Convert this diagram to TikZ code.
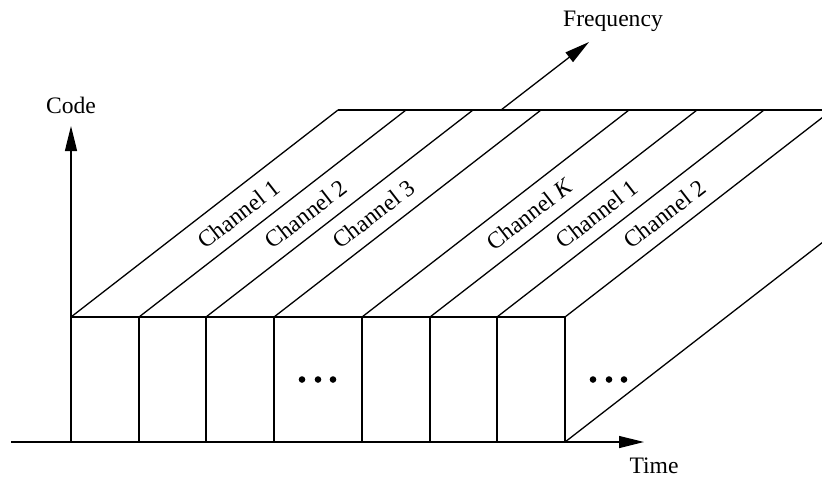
\documentclass[tikz,border=0pt]{standalone}
\usepackage{fontspec}
\setmainfont{Liberation Serif}
\usetikzlibrary{arrows.meta}

\begin{document}
\begin{tikzpicture}[
    x=0.5pt,y=-0.5pt,
    lbl/.style={font=\fontsize{11.8}{14}\selectfont,inner sep=0pt},
    chan/.style={lbl,rotate=37.8},
    edge/.style={line width=0.65pt},
    arrow/.style={-{Triangle[length=12.5pt,width=6pt]},line width=0.65pt}
  ]
  \useasboundingbox (0,0) rectangle (822,479);
  \clip (0,0) rectangle (822,479);
  % axes
  \coordinate (origin) at (71,442);
  \coordinate (timestart) at (11,442);
  \coordinate (timeend) at (644,442);
  \coordinate (codeend) at (71,126);
  \coordinate (freqstart) at (501,110);
  \coordinate (freqend) at (589,42);
  \draw[arrow] (timestart) -- (timeend);
  \draw[arrow] (origin) -- (codeend);
  \draw[arrow] (freqstart) -- (freqend);
  \node[lbl] (code) at (71,105) {Code};
  \node[lbl] (time) at (654,466) {Time};
  \node[lbl] (freq) at (613,21) {Frequency};
  % block of channels
  \coordinate (fronttl) at (71,317);
  \coordinate (fronttr) at (565,317);
  \coordinate (frontbr) at (565,442);
  \coordinate (backtl) at (338,110);
  \coordinate (backtr) at (832,110);
  \coordinate (backbr) at (832,235);
  \draw[edge] (fronttl) -- (fronttr) -- (frontbr);
  \draw[edge] (backtl) -- (backtr);
  \draw[edge] (frontbr) -- (backbr);
  \foreach \x in {71,139,206,274,362,430,497,565}
    \draw[edge] (\x,317) -- ++(267,-207);
  \foreach \x in {139,206,274,362,430,497}
    \draw[edge] (\x,317) -- (\x,442);
  % labels on top
  \foreach \x/\t [count=\i] in {238.5/Channel 1,306/Channel 2,373.5/Channel 3,
      529.5/Channel \textit{K},597/Channel 1,664.5/Channel 2}
    \node[chan] (chan\i) at (\x,214) {\t};
  % dots
  \foreach \x in {302,318,333,593,609,624}
    \fill (\x,379.5) circle (1.65pt);
\end{tikzpicture}
\end{document}
